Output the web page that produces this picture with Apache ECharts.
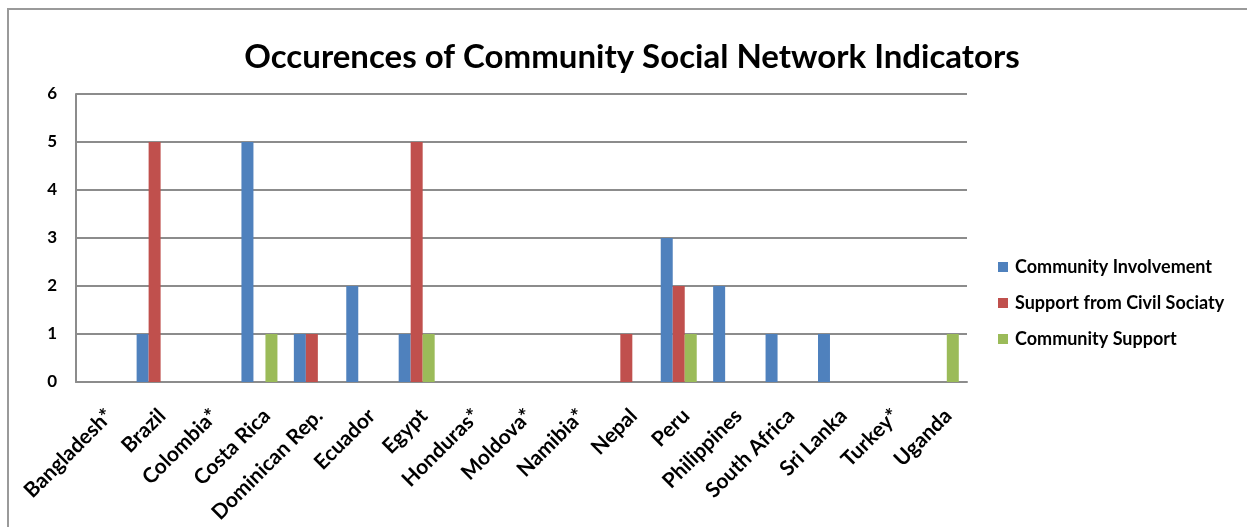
<!DOCTYPE html>
<html>
<head>
<meta charset="utf-8">
<script src="https://cdn.jsdelivr.net/npm/echarts@6/dist/echarts.min.js"></script>
<style>
  html, body { margin: 0; padding: 0; background: #fff; }
  #chart { width: 1247px; height: 527px; }
</style>
</head>
<body>
<div id="chart"></div>
<script>
// Countries surveyed (asterisk marks countries with no recorded occurrences)
const countries = ['Bangladesh*', 'Brazil', 'Colombia*', 'Costa Rica', 'Dominican Rep.', 'Ecuador',
  'Egypt', 'Honduras*', 'Moldova*', 'Namibia*', 'Nepal', 'Peru', 'Philippines', 'South Africa',
  'Sri Lanka', 'Turkey*', 'Uganda'];

// Occurrence counts per indicator
const communityInvolvement = [0, 1, 0, 5, 1, 2, 1, 0, 0, 0, 0, 3, 2, 1, 1, 0, 0];
const civilSocietySupport  = [0, 5, 0, 0, 1, 0, 5, 0, 0, 0, 1, 2, 0, 0, 0, 0, 0];
const communitySupport     = [0, 0, 0, 1, 0, 0, 1, 0, 0, 0, 0, 1, 0, 0, 0, 0, 1];

const seriesNames = ['Community Involvement', 'Support from Civil Sociaty', 'Community Support'];
const yTicks = [0, 1, 2, 3, 4, 5, 6];

const FONT = 'Lato';
const chart = echarts.init(document.getElementById('chart'), null, { renderer: 'canvas' });

const bar = (name, data, color) => ({
  name, type: 'bar', data,
  barWidth: 12, barGap: '0%',
  itemStyle: { color },
  emphasis: { disabled: true }
});

chart.setOption({
  animation: false,
  backgroundColor: '#ffffff',
  textStyle: { fontFamily: FONT },
  graphic: [{
    type: 'rect',
    shape: { x: 8, y: 9, width: 1260, height: 540 },
    style: { fill: 'none', stroke: '#9a9a9a', lineWidth: 2 },
    silent: true
  }],
  title: {
    text: 'Occurences of Community Social Network Indicators',
    left: 627, top: 36, textAlign: 'center',
    textStyle: { fontFamily: FONT, fontSize: 33, fontWeight: 'bold', color: '#000' }
  },
  legend: {
    orient: 'vertical',
    left: 998, top: 258, padding: 0,
    itemWidth: 10, itemHeight: 10, itemGap: 18,
    icon: 'rect',
    textStyle: { fontFamily: FONT, fontSize: 18, lineHeight: 18, fontWeight: 'bold', color: '#000', padding: [0, 0, 0, 2] },
    data: seriesNames
  },
  grid: { left: 76, top: 94, right: 1247 - 967, bottom: 527 - 382, containLabel: false },
  xAxis: {
    type: 'category',
    data: countries,
    axisLine: { lineStyle: { color: '#8c8c8c', width: 2 } },
    axisTick: { show: false },
    axisLabel: {
      interval: 0, rotate: 45, margin: 23, verticalAlign: 'top',
      fontFamily: FONT, fontSize: 21, fontWeight: 'bold', color: '#000'
    }
  },
  yAxis: {
    type: 'value',
    min: yTicks[0], max: yTicks[yTicks.length - 1], interval: 1,
    axisLine: { show: true, lineStyle: { color: '#8c8c8c', width: 2 } },
    axisTick: { show: false },
    splitLine: { lineStyle: { color: '#8c8c8c', width: 2 } },
    axisLabel: { margin: 19, fontFamily: FONT, fontSize: 17, fontWeight: 'bold', color: '#000' }
  },
  series: [
    bar(seriesNames[0], communityInvolvement, '#4F81BD'),
    bar(seriesNames[1], civilSocietySupport, '#C0504D'),
    bar(seriesNames[2], communitySupport, '#9BBB59')
  ]
});
</script>
</body>
</html>
